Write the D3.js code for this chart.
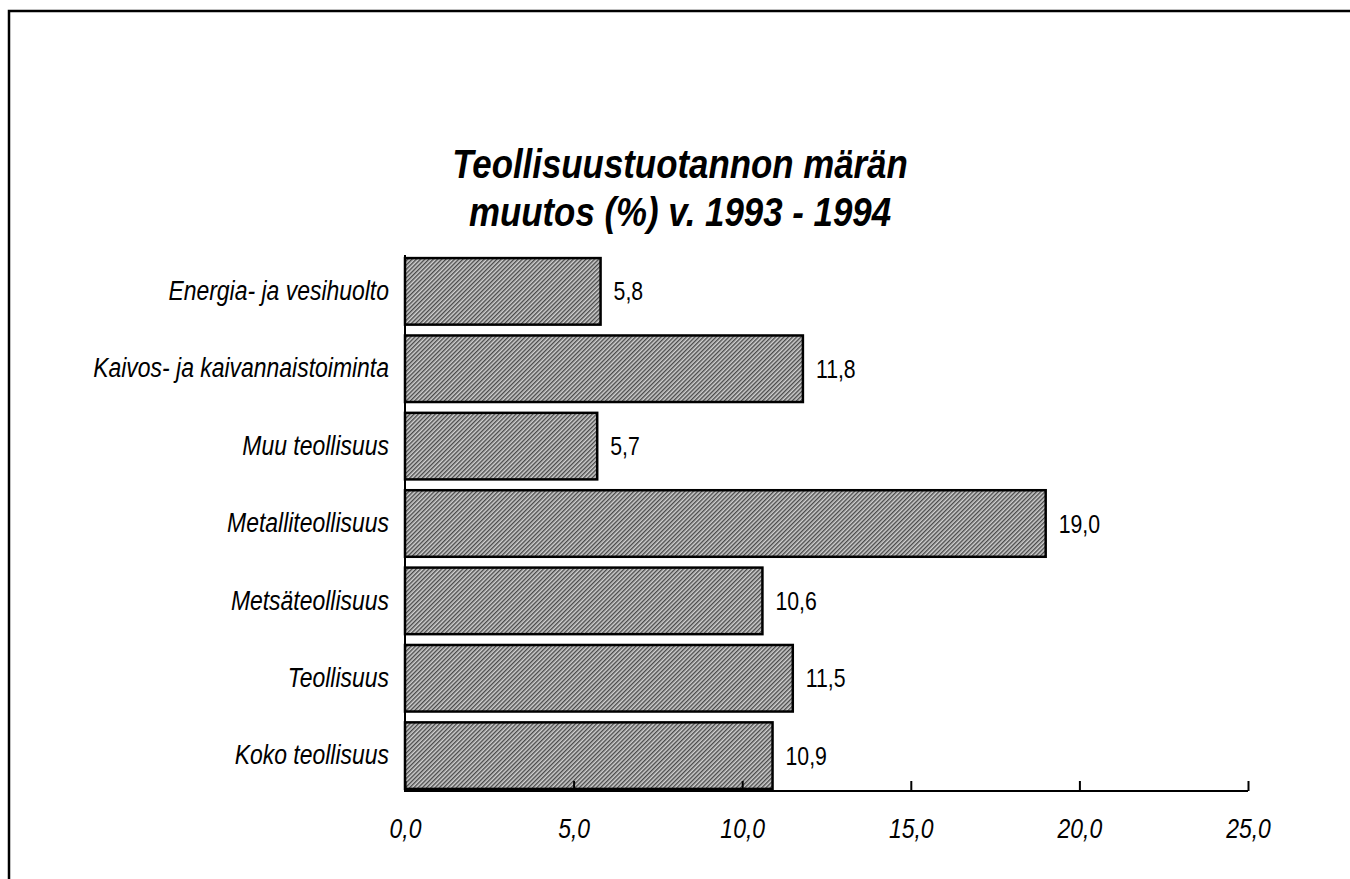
<!DOCTYPE html>
<html>
<head>
<meta charset="utf-8">
<script src="https://cdn.jsdelivr.net/npm/d3@7"></script>
<style>
  body { margin: 0; background: #fff; }
  svg { display: block; font-family: "Liberation Sans", Arial, sans-serif; }
</style>
</head>
<body>
<svg width="1350" height="879"></svg>
<script>
const categories = ["Energia- ja vesihuolto", "Kaivos- ja kaivannaistoiminta", "Muu teollisuus",
  "Metalliteollisuus", "Metsäteollisuus", "Teollisuus", "Koko teollisuus"];
const values = [5.8, 11.8, 5.7, 19.0, 10.6, 11.5, 10.9];
const tickValues = [0, 5, 10, 15, 20, 25];
const titleLines = ["Teollisuustuotannon märän", "muutos (%) v. 1993 - 1994"];

const FONT = "Liberation Sans, Arial, sans-serif";
const SQ = 0.85; // the original typeface is a narrow one; squeeze the text horizontally
const svg = d3.select("svg");
const fmt = v => d3.format(".1f")(v).replace(".", ",");

// frame (only left and top edges visible in the scan)
svg.append("path")
  .attr("d", "M9,879 V11 H1350")
  .attr("fill", "none").attr("stroke", "#000").attr("stroke-width", 2.5);

// hatched fill
const defs = svg.append("defs");
const pat = defs.append("pattern")
  .attr("id", "hatch").attr("patternUnits", "userSpaceOnUse")
  .attr("width", 3).attr("height", 3)
  .attr("patternTransform", "rotate(45)");
pat.append("rect").attr("width", 3).attr("height", 3).attr("fill", "#d0d0d0");
pat.append("rect").attr("width", 1.4).attr("height", 3).attr("fill", "#4a4a4a");

const x = d3.scaleLinear().domain([0, 25]).range([405, 1248]);
const y = d3.scaleBand().domain(categories).range([255, 792]).paddingInner(0.14).paddingOuter(0.04);

// title
svg.append("g")
  .attr("transform", `translate(680,0) scale(${SQ},1)`)
  .selectAll("text").data(titleLines).enter().append("text")
  .attr("x", 0).attr("y", (d, i) => 178 + i * 48)
  .attr("text-anchor", "middle")
  .attr("font-size", 41).attr("font-weight", "bold").attr("font-style", "italic")
  .text(d => d);

// bars
svg.append("g").selectAll("rect").data(values).enter().append("rect")
  .attr("x", x(0))
  .attr("y", (d, i) => y(categories[i]))
  .attr("width", d => x(d) - x(0))
  .attr("height", y.bandwidth())
  .attr("fill", "url(#hatch)")
  .attr("stroke", "#000").attr("stroke-width", 2.5);

// value labels
svg.append("g").selectAll("text").data(values).enter().append("text")
  .attr("transform", (d, i) => `translate(${x(d) + 13},${y(categories[i]) + y.bandwidth() / 2}) scale(${SQ},1)`)
  .attr("dy", "0.36em")
  .attr("font-size", 25)
  .text(d => fmt(d));

// category axis
const yAxis = svg.append("g")
  .attr("transform", `translate(${x(0)},0)`)
  .call(d3.axisLeft(y).tickSize(0).tickPadding(16));
yAxis.select(".domain").remove();
yAxis.selectAll("text")
  .attr("x", -16 / SQ)
  .attr("transform", `scale(${SQ},1)`)
  .attr("font-size", 27).attr("font-style", "italic")
  .attr("font-family", FONT);
svg.append("line")
  .attr("x1", x(0)).attr("x2", x(0)).attr("y1", 255).attr("y2", 792)
  .attr("stroke", "#000").attr("stroke-width", 2);

// value axis
const xAxis = svg.append("g")
  .attr("transform", "translate(0,791)")
  .call(d3.axisBottom(x).tickValues(tickValues).tickSize(-10).tickPadding(28).tickFormat(fmt));
xAxis.select(".domain").attr("d", `M${x(0)},0H${x(25)}`).attr("stroke-width", 2);
xAxis.selectAll(".tick line").attr("stroke-width", 2);
xAxis.selectAll("text")
  .attr("transform", `scale(${SQ},1)`)
  .attr("font-size", 27).attr("font-style", "italic")
  .attr("font-family", FONT);
</script>
</body>
</html>
